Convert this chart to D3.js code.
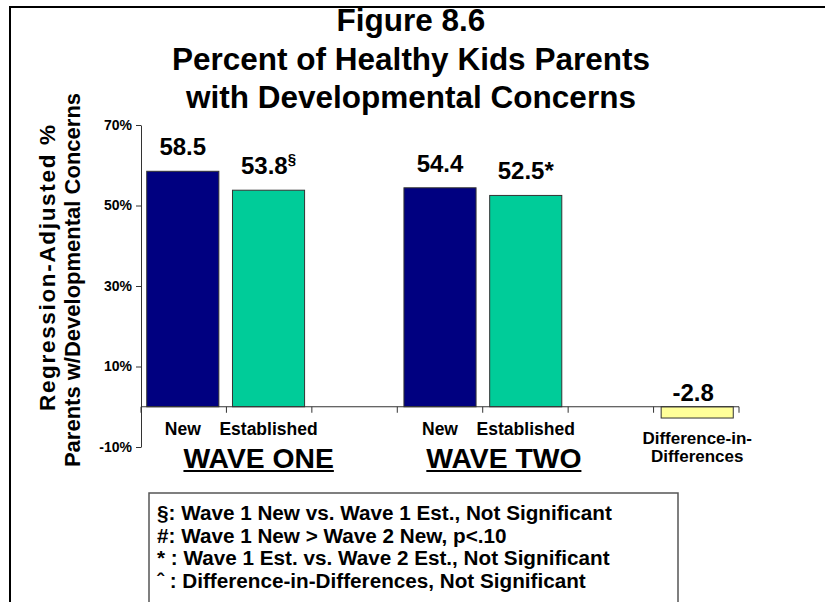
<!DOCTYPE html>
<html>
<head>
<meta charset="utf-8">
<script src="https://cdn.jsdelivr.net/npm/d3@7"></script>
<style>
  html, body { margin: 0; padding: 0; background: #fff; }
  svg { display: block; font-family: Arial, "Liberation Sans", Helvetica, sans-serif; font-weight: bold; }
</style>
</head>
<body>
<svg id="chart" width="825" height="602"></svg>
<script>
// ---- data ----
const categoryKeys = ["w1new", "w1est", "gap1", "w2new", "w2est", "gap2", "did"];
const categoryLabels = ["New", "Established", "", "New", "Established", "", "Difference-in-|Differences"];
const values = [58.5, 53.8, null, 54.4, 52.5, null, -2.8];
const valueLabels = ["58.5", "53.8", "", "54.4", "52.5*", "", "-2.8"];
const valueSuperscripts = ["", "§", "", "", "", "", ""];
const seriesType = ["new", "est", "", "new", "est", "", "did"];
const yTicks = [-10, 10, 30, 50, 70];
const titleLines = ["Figure 8.6", "Percent of Healthy Kids Parents", "with Developmental Concerns"];
const yTitleLines = ["Regression-Adjusted %", "Parents w/Developmental Concerns"];
const groupLabels = ["WAVE ONE", "WAVE TWO"];
const legendLines = [
  "§: Wave 1 New vs. Wave 1 Est., Not Significant",
  "#: Wave 1 New > Wave 2 New, p<.10",
  "* : Wave 1 Est. vs. Wave 2 Est., Not Significant",
  "ˆ : Difference-in-Differences, Not Significant"
];

// ---- styles ----
const colors = { new: "#000080", est: "#00CC99", did: "#FFFF99" };

const svg = d3.select("#chart");

// outer frame (left and top edges)
svg.append("path")
  .attr("d", "M10,610 L10,7 L830,7")
  .attr("fill", "none").attr("stroke", "#000").attr("stroke-width", 2);

// scales
const x = d3.scaleBand().domain(categoryKeys).range([141, 739])
  .paddingInner(0.159).paddingOuter(0.067);
const xSlots = d3.scaleBand().domain(categoryKeys).range([141, 739]).padding(0);
const y = d3.scaleLinear().domain([-10, 70]).range([447, 125]);

// title
svg.append("g").selectAll("text").data(titleLines).join("text")
  .attr("x", 411).attr("y", (d, i) => 31 + i * 38.5)
  .attr("text-anchor", "middle").attr("font-size", 31.5).text(d => d);

// y axis
const yAxis = d3.axisLeft(y).tickValues(yTicks).tickFormat(d => d + "%").tickSize(5).tickSizeOuter(0);
const gy = svg.append("g").attr("transform", "translate(141,0)").call(yAxis);
gy.select(".domain").attr("stroke", "#333");
gy.selectAll(".tick line").attr("stroke", "#333");
gy.selectAll(".tick text").attr("font-size", 14).attr("font-family", "Arial, 'Liberation Sans', sans-serif")
  .attr("font-weight", "bold").attr("fill", "#000").attr("x", -9).attr("dy", "0.3em");

// y title
const yt = svg.append("g").attr("transform", "rotate(-90)");
yt.append("text").attr("x", -268).attr("y", 55)
  .attr("text-anchor", "middle").attr("font-size", 22.5)
  .attr("textLength", 286).attr("lengthAdjust", "spacing").text(yTitleLines[0]);
yt.append("text").attr("x", -280).attr("y", 80)
  .attr("text-anchor", "middle").attr("font-size", 22).text(yTitleLines[1]);

// bars
const idx = d3.range(categoryKeys.length).filter(i => values[i] !== null);
svg.append("g").selectAll("rect").data(idx).join("rect")
  .attr("x", i => x(categoryKeys[i]))
  .attr("width", x.bandwidth())
  .attr("y", i => y(Math.max(0, values[i])))
  .attr("height", i => Math.abs(y(values[i]) - y(0)))
  .attr("fill", i => colors[seriesType[i]])
  .attr("stroke", "#333").attr("stroke-width", 1);

// zero axis
const x0 = xSlots.range()[0], x1 = xSlots.range()[1];
svg.append("line").attr("x1", x0).attr("x2", x1).attr("y1", y(0)).attr("y2", y(0))
  .attr("stroke", "#333").attr("stroke-width", 1);
const tickXs = categoryKeys.map(k => xSlots(k)).concat([x1]);
svg.append("g").selectAll("line").data(tickXs).join("line")
  .attr("x1", d => d).attr("x2", d => d).attr("y1", y(0)).attr("y2", y(0) + 6)
  .attr("stroke", "#333").attr("stroke-width", 1);

// value labels
const vl = svg.append("g").selectAll("text").data(idx).join("text")
  .attr("x", i => x(categoryKeys[i]) + x.bandwidth() / 2 + (values[i] < 0 ? -4 : 0))
  .attr("y", i => values[i] >= 0 ? y(values[i]) - 16 : y(0) - 6)
  .attr("text-anchor", "middle").attr("font-size", 24);
vl.append("tspan").text(i => valueLabels[i]);
vl.filter(i => valueSuperscripts[i]).append("tspan")
  .attr("font-size", 15).attr("dy", -10).text(i => valueSuperscripts[i]);

// category labels
const cl = svg.append("g").selectAll("text").data(d3.range(categoryKeys.length).filter(i => categoryLabels[i])).join("text")
  .attr("x", i => x(categoryKeys[i]) + x.bandwidth() / 2)
  .attr("y", i => seriesType[i] === "did" ? 444 : 435)
  .attr("text-anchor", "middle")
  .attr("font-size", i => seriesType[i] === "did" ? 17 : 17.5);
cl.each(function(i) {
  const parts = categoryLabels[i].split("|");
  const t = d3.select(this);
  parts.forEach((p, j) => {
    t.append("tspan").attr("x", x(categoryKeys[i]) + x.bandwidth() / 2)
      .attr("dy", j === 0 ? 0 : 18).text(p);
  });
});

// group labels (underlined)
const groupCenters = [
  (x("w1new") + x("w1est") + x.bandwidth()) / 2 + 33,
  (x("w2new") + x("w2est") + x.bandwidth()) / 2 + 21
];
groupLabels.forEach((g, i) => {
  const t = svg.append("text").attr("x", groupCenters[i]).attr("y", 468)
    .attr("text-anchor", "middle").attr("font-size", 28.3).text(g);
  const w = t.node().getComputedTextLength();
  svg.append("line").attr("x1", groupCenters[i] - w / 2).attr("x2", groupCenters[i] + w / 2)
    .attr("y1", 471).attr("y2", 471).attr("stroke", "#000").attr("stroke-width", 2);
});

// legend box
svg.append("rect").attr("x", 149).attr("y", 493).attr("width", 529).attr("height", 130)
  .attr("fill", "#fff").attr("stroke", "#555").attr("stroke-width", 1.5);
svg.append("g").selectAll("text").data(legendLines).join("text")
  .attr("x", 157).attr("y", (d, i) => 520 + i * 22.5)
  .attr("font-size", 20.7).text(d => d);
</script>
</body>
</html>
